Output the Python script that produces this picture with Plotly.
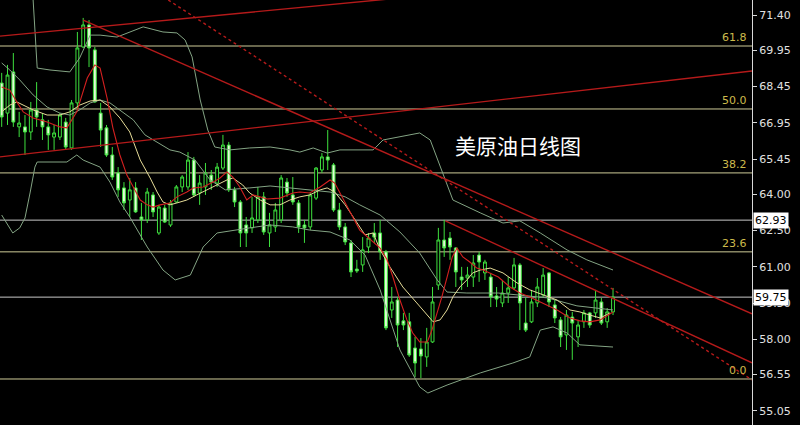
import plotly.graph_objects as go

# ---------------- data ----------------
idx = list(range(106))
opens = [68.59, 67.35, 69.05, 66.78, 66.78, 66.57, 67.48, 67.07, 66.78, 66.36,
         66.36, 66.98, 65.91, 67.77, 70.08, 70.99, 69.96, 67.35, 66.74, 65.62,
         64.88, 64.26, 63.76, 64.26, 63.06, 62.94, 63.97, 62.40, 63.43, 62.73,
         63.68, 64.30, 64.30, 65.41, 64.05, 64.30, 64.79, 64.46, 65.08, 66.03,
         64.18, 63.68, 62.73, 62.61, 62.94, 63.89, 62.40, 62.65, 62.94, 64.50,
         63.97, 63.64, 62.73, 62.65, 63.84, 65.00, 65.54, 65.21, 63.35, 62.65,
         61.99, 60.91, 61.08, 61.82, 62.40, 62.40, 61.62, 59.22, 59.63, 58.77,
         58.73, 57.65, 57.61, 57.28, 57.90, 60.25, 62.11, 62.19, 61.78, 60.58,
         60.54, 60.58, 61.49, 60.75, 60.58, 59.80, 59.51, 59.92, 60.13, 61.08,
         58.68, 58.73, 59.51, 59.84, 60.75, 59.43, 58.81, 58.19, 58.93, 58.11,
         58.73, 59.10, 59.10, 59.55, 58.73, 59.14]
closes = [67.19, 68.92, 66.98, 66.94, 66.57, 67.48, 67.19, 66.78, 66.45, 66.53,
          67.27, 65.95, 67.77, 70.04, 70.99, 70.04, 67.81, 66.65, 65.62, 64.71,
          64.18, 63.64, 64.18, 63.27, 62.94, 64.09, 63.27, 63.47, 62.85, 63.64,
          64.30, 64.71, 65.41, 63.97, 64.46, 64.88, 64.50, 65.12, 66.03, 64.18,
          63.68, 62.40, 62.40, 63.02, 63.89, 62.44, 62.73, 63.35, 64.67, 64.05,
          63.68, 62.65, 62.61, 63.97, 65.08, 65.54, 65.41, 63.35, 62.65, 62.03,
          60.79, 60.83, 61.70, 62.19, 62.23, 61.62, 58.48, 59.55, 58.60, 58.60,
          57.36, 57.03, 57.32, 57.90, 59.55, 62.11, 61.78, 61.82, 60.79, 60.46,
          60.66, 61.16, 61.20, 61.20, 59.76, 59.67, 59.92, 60.13, 61.08, 59.51,
          58.39, 59.55, 60.17, 60.66, 59.55, 58.89, 58.11, 59.01, 58.68, 58.60,
          59.10, 58.60, 59.63, 58.68, 59.14, 59.75]
highs = [69.01, 69.34, 69.83, 67.40, 67.27, 67.81, 68.63, 67.35, 67.07, 66.86,
         67.35, 67.15, 67.89, 70.70, 71.28, 71.19, 70.08, 67.77, 66.86, 65.95,
         65.12, 64.50, 64.67, 64.50, 63.64, 64.26, 64.09, 63.56, 63.56, 63.76,
         64.38, 64.79, 65.74, 65.54, 64.79, 65.29, 65.00, 65.29, 66.45, 66.16,
         64.30, 63.76, 63.06, 63.89, 64.30, 64.09, 63.23, 63.64, 64.79, 64.67,
         64.71, 63.76, 62.94, 64.09, 65.12, 65.70, 66.65, 65.29, 63.64, 62.81,
         62.11, 61.29, 62.23, 62.40, 62.81, 62.94, 61.70, 60.17, 59.76, 59.10,
         59.10, 58.11, 58.06, 58.48, 60.17, 62.61, 62.94, 62.44, 61.82, 61.00,
         61.00, 61.49, 61.62, 61.29, 60.75, 60.17, 60.46, 60.58, 61.37, 61.16,
         59.72, 60.05, 60.54, 60.95, 60.79, 59.63, 58.93, 59.22, 59.14, 58.81,
         59.22, 59.14, 60.05, 59.72, 59.30, 60.13]
lows = [66.78, 66.86, 66.78, 66.36, 65.62, 66.24, 66.78, 66.24, 65.83, 65.83,
        66.24, 65.83, 65.83, 67.48, 70.04, 69.25, 67.77, 65.95, 65.54, 64.59,
        63.89, 63.35, 63.06, 63.23, 62.11, 62.81, 63.06, 62.32, 62.81, 62.65,
        63.64, 64.09, 64.18, 63.89, 63.56, 63.97, 64.18, 64.30, 65.00, 64.09,
        63.47, 61.82, 61.82, 62.40, 62.81, 62.32, 61.82, 62.44, 62.81, 63.89,
        63.56, 62.40, 61.99, 62.52, 63.76, 64.88, 65.00, 63.27, 62.52, 61.90,
        60.58, 60.75, 60.79, 61.57, 61.99, 61.29, 58.39, 58.89, 57.69, 58.39,
        57.28, 56.45, 56.41, 56.87, 57.86, 60.05, 61.41, 61.29, 60.17, 60.05,
        60.17, 60.17, 60.38, 60.46, 59.34, 59.34, 59.34, 59.51, 60.05, 58.39,
        58.31, 58.68, 59.34, 59.76, 59.34, 58.68, 57.69, 57.57, 57.16, 57.69,
        58.48, 58.48, 58.89, 58.60, 58.48, 59.01]

# Bollinger bands
upper_x = [4.0, 5.4, 6.1, 8.3, 11.7, 13.4, 15.2, 16.9, 19.8, 21.5, 24.3, 27.7, 30.1, 31.5, 32.7,
           34.1, 35.4, 36.6, 39.2, 42.6, 46.1, 49.5, 51.2, 53.5, 55.9, 58.1, 63.8, 65.5, 68.4,
           71.8, 73.6, 75.3, 77.5, 82.2, 86.1, 89.0, 92.5, 97.1, 100.5, 105.0]
upper_y = [73.30, 72.02, 69.21, 69.13, 69.05, 69.63, 70.57, 70.57, 70.49, 70.66, 70.91, 70.70,
           70.66, 70.37, 69.67, 67.89, 66.65, 65.95, 65.83, 65.91, 65.95, 65.83, 65.74, 65.91,
           65.70, 65.83, 65.83, 66.24, 66.36, 66.53, 66.24, 65.12, 63.76, 63.23, 62.81, 62.90,
           62.40, 61.70, 61.29, 60.87]
mid_x = [0, 1.4, 3.1, 5.4, 7.8, 10.0, 11.7, 13.4, 15.2, 16.9, 18.6, 20.3, 22.6, 24.6, 26.7, 28.9,
         30.6, 33.2, 35.8, 38.4, 42.6, 46.1, 49.5, 52.9, 56.4, 59.0, 61.5, 65.0, 68.4, 71.8, 74.8,
         76.5, 79.9, 85.3, 89.0, 93.7, 98.8, 105.0]
mid_y = [69.42, 69.13, 68.72, 68.10, 67.60, 67.35, 67.27, 67.48, 67.77, 67.89, 67.77, 67.48, 67.07,
         66.45, 66.16, 65.83, 65.74, 65.41, 64.59, 64.18, 64.26, 64.34, 64.26, 64.18, 64.09, 63.89,
         63.56, 63.14, 62.44, 61.57, 60.46, 59.96, 59.92, 59.92, 59.84, 59.72, 59.39, 59.22]
lower_x = [0, 1.9, 3.1, 4.0, 4.9, 5.7, 6.1, 11.2, 12.9, 14.0, 16.9, 18.6, 20.3, 22.0, 25.0, 27.7,
           29.8, 32.4, 34.6, 37.0, 42.6, 46.1, 50.0, 52.9, 56.4, 59.8, 62.4, 65.0, 68.4, 71.8, 73.2,
           76.5, 82.2, 87.8, 90.7, 92.5, 94.7, 97.1, 99.3, 105.0]
lower_y = [63.14, 62.40, 62.61, 63.02, 64.09, 65.12, 65.33, 65.33, 65.62, 65.41, 65.12, 64.50, 63.68,
           63.06, 61.82, 60.87, 60.46, 60.66, 61.82, 62.40, 62.61, 62.73, 62.65, 62.52, 62.44, 62.11,
           61.49, 60.05, 57.57, 56.04, 55.79, 56.12, 56.62, 57.03, 57.28, 58.39, 58.52, 58.27, 57.78,
           57.69]

# fast (red) and slow (yellow) moving averages
red_x = [0, 1.4, 2.6, 3.7, 5.4, 7.8, 10.0, 11.2, 12.9, 14.7, 16.0, 16.9, 18.1, 19.1, 20.3, 21.5,
         22.6, 23.8, 25.0, 26.0, 27.2, 28.9, 30.1, 31.8, 32.9, 34.6, 36.3, 37.5, 38.7, 39.7, 40.9,
         42.1, 43.2, 45.6, 47.8, 50.0, 51.2, 52.9, 54.7, 56.4, 57.2, 58.1, 59.3, 60.3, 61.5, 65.0,
         66.2, 67.2, 68.4, 69.6, 70.6, 71.8, 73.1, 73.9, 74.8, 75.6, 76.5, 77.4, 78.2, 79.2, 80.4,
         81.6, 82.7, 83.9, 85.3, 87.3, 89.0, 90.7, 93.0, 95.4, 97.6, 99.3, 101.0, 102.8, 105.0]
red_y = [68.43, 68.30, 67.81, 67.40, 67.15, 66.98, 66.78, 66.74, 67.40, 68.80, 69.34, 69.21, 67.97,
         66.74, 65.62, 64.79, 64.30, 63.76, 63.56, 63.47, 63.56, 63.64, 63.89, 64.09, 64.26, 64.30,
         64.50, 64.67, 64.92, 64.71, 64.30, 63.76, 63.97, 63.80, 63.84, 64.05, 64.09, 64.05, 64.30,
         64.59, 64.46, 64.05, 63.47, 63.06, 62.52, 61.78, 61.29, 60.58, 59.63, 58.81, 58.27, 57.90,
         57.90, 58.39, 59.10, 59.76, 60.58, 61.41, 61.78, 61.41, 61.20, 60.95, 60.87, 60.75, 60.58,
         60.17, 59.92, 59.76, 59.51, 59.22, 58.89, 58.77, 58.73, 58.81, 59.14]
yel_x = [0, 1.4, 2.6, 3.7, 5.4, 7.8, 10.0, 11.7, 13.4, 15.2, 16.9, 18.6, 20.3, 22.0, 23.8, 25.5,
         26.7, 27.7, 28.9, 30.1, 31.8, 33.5, 35.3, 37.0, 38.7, 39.7, 41.4, 42.6, 44.4, 46.1, 47.8,
         49.5, 51.2, 52.9, 54.7, 55.9, 57.2, 59.0, 60.7, 62.4, 63.8, 65.0, 66.7, 68.9, 71.3, 73.1,
         74.1, 75.3, 76.5, 77.5, 78.7, 79.9, 80.9, 82.2, 83.9, 86.1, 88.5, 90.7, 93.0, 95.4, 97.6,
         99.3, 101.0, 102.8, 104.5]
yel_y = [67.40, 67.68, 67.81, 67.68, 67.48, 67.27, 67.27, 67.40, 67.68, 67.85, 67.89, 67.60, 67.15,
         66.57, 65.41, 64.67, 64.09, 63.68, 63.56, 63.64, 63.76, 63.97, 64.18, 64.38, 64.59, 64.67,
         64.38, 64.05, 63.76, 63.56, 63.56, 63.76, 63.89, 63.97, 64.18, 64.26, 64.09, 63.56, 62.94,
         62.32, 62.40, 61.70, 60.99, 60.17, 59.51, 59.01, 58.73, 58.81, 59.22, 59.76, 60.17, 60.46,
         60.75, 60.87, 60.95, 60.75, 60.34, 60.05, 59.84, 59.63, 59.22, 59.14, 59.01, 58.89, 59.10]

# trend lines (start / end points)
rise_hi_x, rise_hi_y = [-0.29, 70.0], [70.53, 72.14]
rise_lo_x, rise_lo_y = [-0.29, 128.87], [65.54, 69.09]
fall_hi_x, fall_hi_y = [14.0, 128.87], [71.19, 59.06]
fall_lo_x, fall_lo_y = [76.2, 128.87], [62.90, 57.04]
dot_x, dot_y = [28.6, 128.87], [72.02, 56.33]

# horizontal levels
fib_levels = [70.12, 67.52, 64.88, 61.62, 56.37]
fib_labels = ["61.8", "50.0", "38.2", "23.6", "0.0"]
price_levels = [62.93, 59.75]
price_labels = ["62.93", "59.75"]

tick_vals = [71.40, 69.95, 68.45, 66.95, 65.45, 64.00, 62.50, 61.00, 59.50, 58.00, 56.55, 55.05]
tick_text = ["71.40", "69.95", "68.45", "66.95", "65.45", "64.00", "62.50", "61.00", "59.50",
             "58.00", "56.55", "55.05"]

title_text = "美原油日线图"

# ---------------- figure ----------------
fig = go.Figure()

band_col = "#84a484"
for xs, ys in [(upper_x, upper_y), (mid_x, mid_y), (lower_x, lower_y)]:
    fig.add_trace(go.Scatter(x=xs, y=ys, mode="lines", line=dict(color=band_col, width=1),
                             hoverinfo="skip", showlegend=False))
fig.add_trace(go.Scatter(x=yel_x, y=yel_y, mode="lines", line=dict(color="#e6dc98", width=1),
                         hoverinfo="skip", showlegend=False))
fig.add_trace(go.Scatter(x=red_x, y=red_y, mode="lines", line=dict(color="#d42020", width=1.1),
                         hoverinfo="skip", showlegend=False))

fig.add_trace(go.Candlestick(
    x=idx, open=opens, high=highs, low=lows, close=closes,
    increasing=dict(line=dict(color="#3ee03e", width=1), fillcolor="#000000"),
    decreasing=dict(line=dict(color="#3ee03e", width=1), fillcolor="#e4fbd8"),
    whiskerwidth=0, hoverinfo="skip", showlegend=False))

trend_col = "#b51a1a"
for xs, ys in [(rise_hi_x, rise_hi_y), (rise_lo_x, rise_lo_y), (fall_hi_x, fall_hi_y),
               (fall_lo_x, fall_lo_y)]:
    fig.add_trace(go.Scatter(x=xs, y=ys, mode="lines", line=dict(color=trend_col, width=1.4),
                             hoverinfo="skip", showlegend=False))
fig.add_trace(go.Scatter(x=dot_x, y=dot_y, mode="lines",
                         line=dict(color=trend_col, width=1.4, dash="dot"),
                         hoverinfo="skip", showlegend=False))

shapes = []
for lv in fib_levels:
    shapes.append(dict(type="line", xref="paper", x0=0, x1=1, yref="y", y0=lv, y1=lv,
                       line=dict(color="#cfcb98", width=1), layer="below"))
for lv in price_levels:
    shapes.append(dict(type="line", xref="paper", x0=0, x1=1, yref="y", y0=lv, y1=lv,
                       line=dict(color="#c8c8c8", width=1), layer="below"))

annotations = []
for lv, lb in zip(fib_levels, fib_labels):
    annotations.append(dict(text=lb, xref="paper", x=1, xanchor="right", xshift=-3,
                            yref="y", y=lv, yanchor="bottom", showarrow=False,
                            font=dict(color="#cdbb4c", size=11, family="DejaVu Sans")))
for lv, lb in zip(price_levels, price_labels):
    annotations.append(dict(text=lb, xref="paper", x=1, xanchor="left", xshift=1,
                            yref="y", y=lv, yanchor="middle", showarrow=False,
                            bgcolor="#ffffff", borderpad=1,
                            font=dict(color="#000000", size=11, family="DejaVu Sans")))
annotations.append(dict(text=title_text, xref="paper", x=0.689, xanchor="center",
                        yref="paper", y=0.659, yanchor="middle", showarrow=False,
                        font=dict(color="#ffffff", size=21, family="Noto Sans CJK SC")))

fig.update_layout(
    width=800, height=425,
    margin=dict(l=0, r=48, t=0, b=0),
    paper_bgcolor="#000000", plot_bgcolor="#000000",
    shapes=shapes, annotations=annotations,
    xaxis=dict(range=[-0.29, 128.87], visible=False, rangeslider=dict(visible=False),
               fixedrange=True),
    yaxis=dict(range=[54.47, 72.02], side="right", showgrid=False, zeroline=False,
               showline=True, linecolor="#d8d8d8", linewidth=1,
               ticks="outside", ticklen=4, tickcolor="#d8d8d8",
               tickvals=tick_vals, ticktext=tick_text, fixedrange=True,
               tickfont=dict(color="#e0e0e0", size=11, family="DejaVu Sans")),
)

fig.write_html("out.html", config={"displayModeBar": False},
               post_script="document.body.style.margin='0px';document.body.style.background='#000';")
